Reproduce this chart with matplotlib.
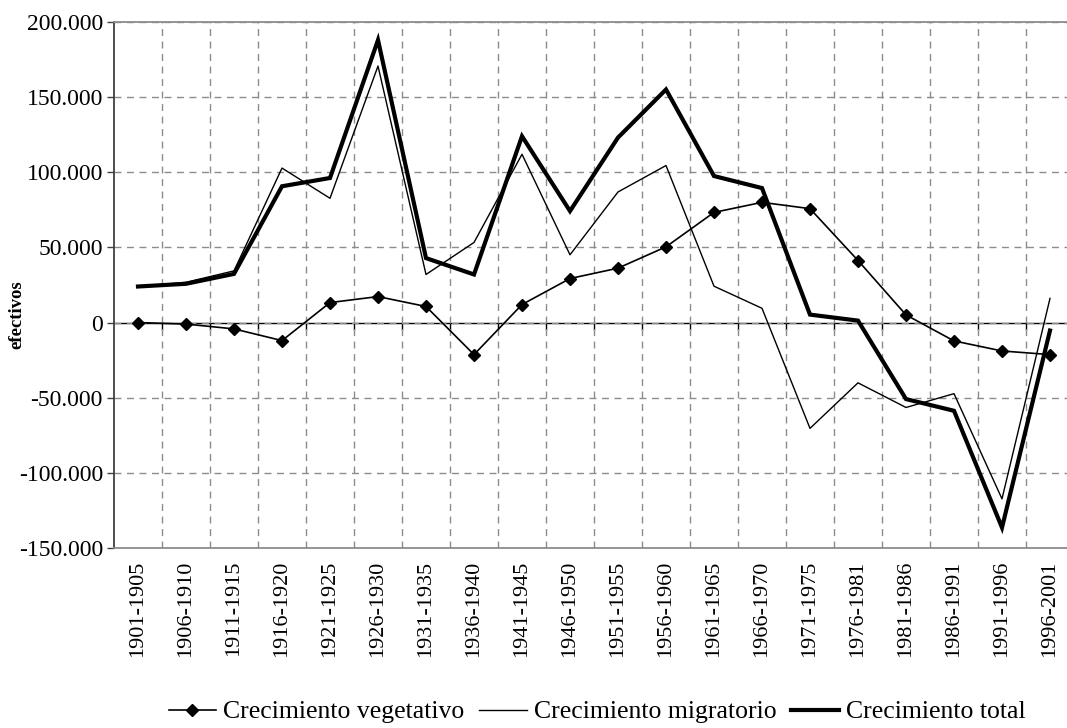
import matplotlib
matplotlib.use("Agg")
import matplotlib.pyplot as plt
from matplotlib.ticker import FuncFormatter, FixedLocator, MultipleLocator

periods = ["1901-1905", "1906-1910", "1911-1915", "1916-1920", "1921-1925",
           "1926-1930", "1931-1935", "1936-1940", "1941-1945", "1946-1950",
           "1951-1955", "1956-1960", "1961-1965", "1966-1970", "1971-1975",
           "1976-1981", "1981-1986", "1986-1991", "1991-1996", "1996-2001"]

vegetativo = [0, -1000, -4200, -12000, 13300, 17300, 10700, -21300, 12000, 29300,
              36200, 50400, 73300, 80000, 75800, 41300, 5100, -12200, -18900, -21300]

migratorio = [24000, 26800, 34400, 102800, 82700, 170700, 32000, 53300, 112000, 45100,
              86900, 104500, 24200, 9500, -70400, -40100, -56500, -47300, -117300, 16100]

total = [24000, 25800, 32400, 90700, 96200, 188000, 42900, 32000, 124000, 74200,
         123100, 155100, 97500, 89500, 5300, 1300, -50900, -58700, -136400, -5300]

plt.rcParams['font.family'] = ['Liberation Serif', 'DejaVu Serif']

W, H = 1067, 728
fig = plt.figure(figsize=(W / 100, H / 100), dpi=100)
ax = fig.add_axes([114 / W, 180 / H, 960 / W, 526 / H])

x = list(range(len(periods)))

ax.plot(x, vegetativo, color='black', lw=1.2, marker='D', markersize=6,
        label='Crecimiento vegetativo', zorder=4)
ax.plot(x, migratorio, color='black', lw=1.0, label='Crecimiento migratorio', zorder=3)
ax.plot(x, total, color='black', lw=3.0, label='Crecimiento total', zorder=5,
        solid_joinstyle='miter')

ax.set_xlim(-0.5, len(periods) - 0.5)
ax.set_ylim(-150000, 200000)

# y axis
ax.yaxis.set_major_locator(MultipleLocator(50000))
ax.yaxis.set_major_formatter(FuncFormatter(lambda v, p: f"{int(v):,}".replace(",", ".")))
ax.tick_params(axis='y', direction='out', length=5, width=1, color='#404040',
               labelsize=17, pad=3)

# x axis: labels at centers, grid at boundaries
ax.set_xticks(x)
ax.set_xticklabels(periods, rotation=90, fontsize=16)
ax.tick_params(axis='x', length=0, pad=9)
ax.xaxis.set_minor_locator(FixedLocator([i + 0.5 for i in x[:-1]]))

ax.grid(True, which='major', axis='y', color='#8c8c8c', lw=1, ls=(0, (5, 4)))
ax.grid(True, which='minor', axis='x', color='#8c8c8c', lw=1, ls=(0, (5, 4)))
ax.tick_params(axis='x', which='minor', length=0)
ax.set_axisbelow(True)

# zero line with category boundary ticks
sec = ax.secondary_xaxis(150000 / 350000)
sec.set_xticks([i + 0.5 for i in x[:-1]])
sec.set_xticklabels([])
sec.tick_params(axis='x', direction='out', length=5, width=1, color='black')
sec.spines['bottom'].set_color('black')
sec.spines['bottom'].set_linewidth(1)

for s in ['top', 'bottom']:
    ax.spines[s].set_color('#8c8c8c')
    ax.spines[s].set_linewidth(1.3)
ax.spines['left'].set_color('#404040')
ax.spines['left'].set_linewidth(1.3)
ax.spines['right'].set_visible(False)

ax.set_ylabel('efectivos', fontsize=13.5, fontweight='bold')
ax.yaxis.set_label_coords((25 - 114) / 960, (548 - 315) / 526)

handles, labels = ax.get_legend_handles_labels()
fig.legend(handles, labels, loc='center', bbox_to_anchor=(597 / W, 1 - 712 / H),
           ncol=3, frameon=False, fontsize=18.5, handlelength=1.85,
           handletextpad=0.27, columnspacing=0.58)

fig.savefig('out.png', dpi=100)
